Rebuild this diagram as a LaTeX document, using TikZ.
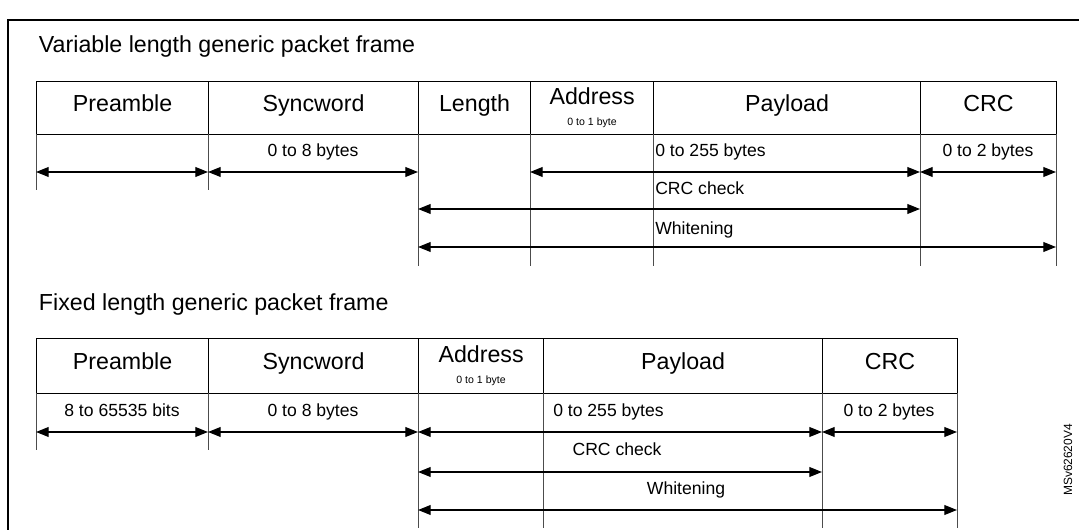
\documentclass[tikz,border=0pt]{standalone}
\usepackage{fontspec}
\setmainfont{Liberation Sans}
\usetikzlibrary{arrows.meta}
\tikzstyle{cell} = [rectangle, draw=black, thick, anchor=north west, inner sep=0pt, text height=0.75em, text depth=0.22em, font=\fontsize{16.5}{17}\selectfont]
\tikzstyle{addr} = [text height=, text depth=, align=center]
\tikzstyle{lbl} = [inner sep=0pt, text height=0.75em, text depth=0.22em, font=\fontsize{12.5}{13}\selectfont]
\tikzstyle{dim} = [thick, {Triangle[length=9pt,width=7pt]}-{Triangle[length=9pt,width=7pt]}]
\tikzstyle{guide} = [draw=black!70, line width=0.5pt]

\begin{document}
\begin{tikzpicture}[x=0.025cm, y=-0.025cm]

        \useasboundingbox (0,0) rectangle (1079,530);
        \draw[thick] (8,530) -- (8,20) -- (1079,20);

        % variable length frame
        \node (T1) [anchor=west, font=\fontsize{16.5}{17}\selectfont] at (34,47) {Variable length generic packet frame};
        \node (V1) [cell, minimum width=4.3cm, minimum height=1.325cm] at (36,81) {Preamble};
        \node (V2) [cell, minimum width=5.25cm, minimum height=1.325cm] at (208,81) {Syncword};
        \node (V3) [cell, minimum width=2.8cm, minimum height=1.325cm] at (418,81) {Length};
        \node (V4) [cell, addr, minimum width=3.075cm, minimum height=1.325cm] at (530,81) {Address\\[-2pt]{\fontsize{7.5}{8}\selectfont 0 to 1 byte}};
        \node (V5) [cell, minimum width=6.675cm, minimum height=1.325cm] at (653,81) {Payload};
        \node (V6) [cell, minimum width=3.4cm, minimum height=1.325cm] at (920,81) {CRC};

        \draw[guide] (36,134) -- (36,190);
        \draw[guide] (208,134) -- (208,190);
        \draw[guide] (418,134) -- (418,266);
        \draw[guide] (530,134) -- (530,266);
        \draw[guide] (653,134) -- (653,266);
        \draw[guide] (920,134) -- (920,266);
        \draw[guide] (1056,134) -- (1056,266);

        \coordinate (va) at (36,172);
        \coordinate (vb) at (208,172);
        \coordinate (vc) at (418,172);
        \coordinate (vd) at (530,172);
        \coordinate (ve) at (920,172);
        \coordinate (vf) at (1056,172);
        \draw[dim] (va) -- (vb);
        \draw[dim] (vb) -- (vc);
        \draw[dim] (vd) -- (ve);
        \draw[dim] (ve) -- (vf);
        \node (VL2) [lbl] at (313,153) {0 to 8 bytes};
        \node (VL5) [lbl, anchor=west] at (655,153) {0 to 255 bytes};
        \node (VL6) [lbl] at (988,153) {0 to 2 bytes};

        \coordinate (vg) at (418,209);
        \coordinate (vh) at (920,209);
        \draw[dim] (vg) -- (vh);
        \node (VC) [lbl, anchor=west] at (655,191) {CRC check};

        \coordinate (vi) at (418,247);
        \coordinate (vj) at (1056,247);
        \draw[dim] (vi) -- (vj);
        \node (VW) [lbl, anchor=west] at (655,231) {Whitening};

        % fixed length frame
        \node (T2) [anchor=west, font=\fontsize{16.5}{17}\selectfont] at (34,305) {Fixed length generic packet frame};
        \node (F1) [cell, minimum width=4.3cm, minimum height=1.375cm] at (36,338) {Preamble};
        \node (F2) [cell, minimum width=5.25cm, minimum height=1.375cm] at (208,338) {Syncword};
        \node (F3) [cell, addr, minimum width=3.125cm, minimum height=1.375cm] at (418,338) {Address\\[-2pt]{\fontsize{7.5}{8}\selectfont 0 to 1 byte}};
        \node (F4) [cell, minimum width=6.975cm, minimum height=1.375cm] at (543,338) {Payload};
        \node (F5) [cell, minimum width=3.375cm, minimum height=1.375cm] at (822,338) {CRC};

        \draw[guide] (36,393) -- (36,450);
        \draw[guide] (208,393) -- (208,450);
        \draw[guide] (418,393) -- (418,528);
        \draw[guide] (543,393) -- (543,528);
        \draw[guide] (822,393) -- (822,528);
        \draw[guide] (957,393) -- (957,528);

        \coordinate (fa) at (36,432);
        \coordinate (fb) at (208,432);
        \coordinate (fc) at (418,432);
        \coordinate (fd) at (822,432);
        \coordinate (fe) at (957,432);
        \draw[dim] (fa) -- (fb);
        \draw[dim] (fb) -- (fc);
        \draw[dim] (fc) -- (fd);
        \draw[dim] (fd) -- (fe);
        \node (FL1) [lbl] at (122,413) {8 to 65535 bits};
        \node (FL2) [lbl] at (313,413) {0 to 8 bytes};
        \node (FL4) [lbl, anchor=west] at (553,413) {0 to 255 bytes};
        \node (FL5) [lbl] at (889,413) {0 to 2 bytes};

        \coordinate (fg) at (418,472);
        \coordinate (fh) at (822,472);
        \draw[dim] (fg) -- (fh);
        \node (FC) [lbl] at (617,452) {CRC check};

        \coordinate (fi) at (418,510);
        \coordinate (fj) at (957,510);
        \draw[dim] (fi) -- (fj);
        \node (FW) [lbl] at (686,491) {Whitening};

        \node (ID) [rotate=90, font=\fontsize{8.5}{9}\selectfont] at (1068,460) {MSv62620V4};

\end{tikzpicture}
\end{document}
